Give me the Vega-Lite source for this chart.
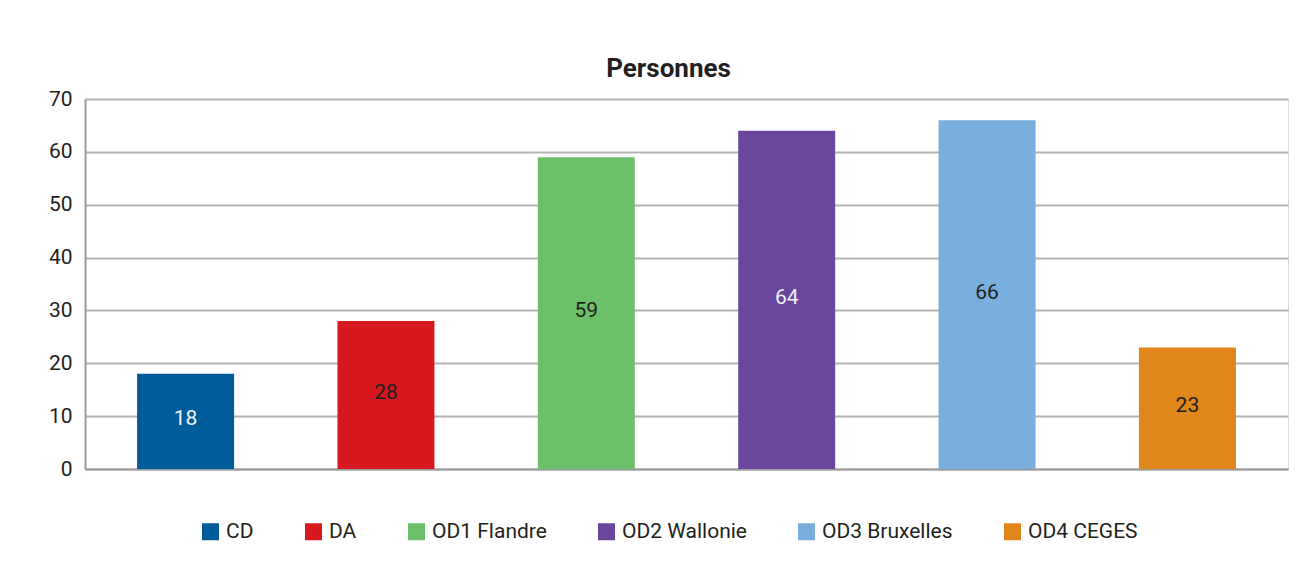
{
  "$schema": "https://vega.github.io/schema/vega-lite/v6.json",
  "autosize": {"type": "none"},
  "width": 1203,
  "height": 370,
  "padding": {"left": 85, "top": 99, "right": 24, "bottom": 118},
  "background": "white",
  "title": {
    "text": "Personnes",
    "font": "Roboto",
    "fontSize": 26,
    "fontWeight": "bold",
    "color": "#231f20",
    "anchor": "middle",
    "dx": -18,
    "offset": 6
  },
  "data": {
    "values": [
      {"cat": "CD", "value": 18},
      {"cat": "DA", "value": 28},
      {"cat": "OD1 Flandre", "value": 59},
      {"cat": "OD2 Wallonie", "value": 64},
      {"cat": "OD3 Bruxelles", "value": 66},
      {"cat": "OD4 CEGES", "value": 23}
    ]
  },
  "encoding": {
    "x": {
      "field": "cat",
      "type": "nominal",
      "sort": null,
      "scale": {"paddingInner": 0.516, "paddingOuter": 0.26},
      "axis": {
        "title": null,
        "labels": false,
        "ticks": false,
        "domainColor": "#9b9b9b",
        "domainWidth": 2,
        "grid": false
      }
    }
  },
  "layer": [
    {
      "mark": {"type": "bar"},
      "encoding": {
        "y": {
          "field": "value",
          "type": "quantitative",
          "scale": {"domain": [0, 70]},
          "axis": {
            "title": null,
            "values": [0, 10, 20, 30, 40, 50, 60, 70],
            "ticks": false,
            "labelPadding": 13,
            "labelFont": "Roboto",
            "labelFontSize": 21,
            "labelColor": "#231f20",
            "domainColor": "#9b9b9b",
            "domainWidth": 2,
            "gridColor": "#b3b3b3",
            "gridWidth": 2
          }
        },
        "color": {
          "field": "cat",
          "type": "nominal",
          "sort": null,
          "scale": {
            "domain": ["CD", "DA", "OD1 Flandre", "OD2 Wallonie", "OD3 Bruxelles", "OD4 CEGES"],
            "range": ["#005b9b", "#d7191f", "#6cc06a", "#6a479c", "#7aaedd", "#e0861a"]
          },
          "legend": {
            "title": null,
            "orient": "none",
            "direction": "horizontal",
            "legendX": 115,
            "legendY": 422,
            "padding": 0,
            "symbolType": "square",
            "symbolSize": 289,
            "symbolStrokeWidth": 0,
            "symbolOpacity": 1,
            "labelFont": "Roboto",
            "labelFontSize": 21,
            "labelColor": "#231f20",
            "labelOffset": 5,
            "columnPadding": 49,
            "labelLimit": 300
          }
        }
      }
    },
    {
      "mark": {"type": "text", "font": "Roboto", "fontSize": 21, "baseline": "middle", "dy": -2},
      "encoding": {
        "y": {
          "field": "value",
          "type": "quantitative",
          "scale": {"domain": [0, 140]},
          "axis": null
        },
        "text": {"field": "value", "type": "quantitative"},
        "color": {
          "condition": {"test": "datum.cat === 'CD' || datum.cat === 'OD2 Wallonie'", "value": "#f2f2f2"},
          "value": "#231f20"
        }
      }
    }
  ],
  "resolve": {"scale": {"y": "independent"}}
}
